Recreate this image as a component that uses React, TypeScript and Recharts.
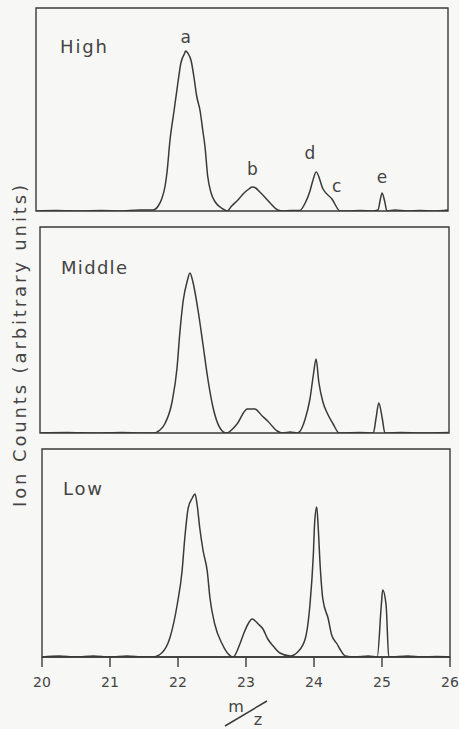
import React from 'react';
import { LineChart, Line, XAxis, YAxis, ReferenceArea, ReferenceDot } from 'recharts';

// m/z values and ion counts (arbitrary units)
const highSpectrum: [number, number][] = [
  [20.0, 0], [20.3, 0.5], [20.64, 0], [20.95, 0.5], [21.22, 0], [21.51, 1], [21.66, 1], [21.7, 1],
  [21.78, 5], [21.83, 12], [21.88, 25], [21.91, 40], [21.95, 70], [22.01, 100], [22.07, 130],
  [22.11, 148], [22.16, 157], [22.18, 160], [22.21, 158], [22.26, 150], [22.3, 134], [22.34, 115],
  [22.39, 100], [22.43, 80], [22.46, 65], [22.5, 35], [22.55, 18], [22.61, 9], [22.68, 4],
  [22.75, 1], [22.78, 0], [22.85, 5], [22.94, 11], [23.03, 18], [23.1, 22], [23.15, 24], [23.2, 23],
  [23.26, 19], [23.33, 14], [23.41, 8], [23.48, 3], [23.52, 1], [23.6, 0], [23.7, 0.5], [23.84, 0.5],
  [23.92, 8], [23.99, 20], [24.03, 30], [24.08, 39], [24.18, 22], [24.31, 12], [24.43, 0], [24.55, 0],
  [24.72, 0.5], [24.9, 0], [24.98, 1], [25.01, 10], [25.04, 18], [25.08, 9], [25.11, 0], [25.23, 1],
  [25.4, 0], [25.59, 0.5], [25.8, 0], [26.0, 1],
];

const middleSpectrum: [number, number][] = [
  [20.0, 0], [20.4, 0.5], [20.8, 0], [21.2, 0.5], [21.5, 0], [21.66, 0], [21.76, 3], [21.83, 9],
  [21.94, 32], [22.01, 65], [22.05, 99], [22.1, 132], [22.16, 152], [22.2, 160], [22.24, 152],
  [22.32, 122], [22.39, 89], [22.46, 55], [22.54, 25], [22.64, 5], [22.73, 0], [22.89, 9],
  [23.04, 24], [23.15, 24], [23.26, 17], [23.34, 12], [23.48, 2], [23.56, 0], [23.67, 1], [23.78, 0],
  [23.89, 14], [23.96, 34], [24.01, 58], [24.05, 74], [24.09, 51], [24.15, 31], [24.22, 19],
  [24.3, 9], [24.39, 0], [24.69, 0.5], [24.89, 0], [24.93, 15], [24.97, 30], [25.02, 15], [25.06, 0],
  [25.3, 0.5], [25.57, 0], [26.0, 0.5],
];

const lowSpectrum: [number, number][] = [
  [20.0, 0], [20.25, 1], [20.5, 0], [20.75, 1], [21.0, 0], [21.25, 1], [21.5, 0], [21.63, 0],
  [21.76, 4], [21.88, 19], [21.99, 53], [22.06, 86], [22.1, 119], [22.15, 149], [22.21, 159],
  [22.25, 163], [22.28, 153], [22.32, 129], [22.37, 106], [22.43, 86], [22.47, 59], [22.54, 33],
  [22.65, 13], [22.74, 3], [22.81, 0], [22.91, 13], [22.97, 24], [23.03, 33], [23.09, 38],
  [23.18, 33], [23.25, 28], [23.32, 18], [23.4, 11], [23.5, 4], [23.65, 1], [23.76, 5], [23.87, 18],
  [23.94, 52], [23.99, 102], [24.01, 135], [24.04, 150], [24.06, 132], [24.09, 92], [24.13, 58],
  [24.21, 38], [24.26, 22], [24.34, 13], [24.38, 8], [24.46, 1], [24.6, 0], [24.8, 1], [24.93, 0],
  [24.99, 52], [25.01, 67], [25.06, 52], [25.1, 0], [25.38, 1], [25.6, 0], [25.8, 0.5], [26.0, 0],
];

const panelNames = ['High', 'Middle', 'Low'];
const panelMax = [203, 206, 208];
const xTicks = [20, 21, 22, 23, 24, 25, 26];
const peakLabels: { label: string; mz: number; counts: number }[] = [
  { label: 'a', mz: 22.18, counts: 168 },
  { label: 'b', mz: 23.15, counts: 36 },
  { label: 'd', mz: 23.99, counts: 52 },
  { label: 'c', mz: 24.38, counts: 19 },
  { label: 'e', mz: 25.04, counts: 28 },
];
const xTitle = ['m', 'z'];
const yTitle = 'Ion Counts (arbitrary units)';

const toRows = (s: [number, number][]) => s.map(([mz, counts]) => ({ mz, counts }));

const INK = '#3a3a3a';
const TXT = '#444444';
const FONT = '"DejaVu Sans", sans-serif';

function Panel({ data, max, top, height, margin, showAxis, labels }: any) {
  return (
    <div style={{ position: 'absolute', left: 0, top, width: 459, height }}>
      <LineChart width={459} height={height} data={data} margin={margin}>
        <XAxis
          dataKey="mz"
          type="number"
          domain={[20, 26]}
          ticks={xTicks}
          hide={!showAxis}
          height={40}
          tickSize={10}
          tickMargin={10}
          stroke={INK}
          axisLine={{ stroke: INK, strokeWidth: 1.4 }}
          tickLine={{ stroke: INK, strokeWidth: 1.4 }}
          tick={{ fill: TXT, fontSize: 14, fontFamily: FONT }}
          allowDataOverflow
        />
        <YAxis type="number" domain={[0, max]} hide allowDataOverflow />
        <ReferenceArea
          x1={20}
          x2={26}
          y1={0}
          y2={max}
          fill="none"
          stroke={INK}
          strokeWidth={1.4}
          fillOpacity={0}
        />
        <Line
          type="monotone"
          dataKey="counts"
          stroke={INK}
          strokeWidth={1.5}
          dot={false}
          isAnimationActive={false}
        />
        {labels &&
          labels.map((p: any) => (
            <ReferenceDot
              key={p.label}
              x={p.mz}
              y={p.counts}
              r={1}
              shape={(props: any) => (
                <text
                  x={props.cx}
                  y={props.cy}
                  textAnchor="middle"
                  fontSize={17}
                  fontFamily={FONT}
                  style={{ fill: TXT, stroke: 'none' }}
                >
                  {p.label}
                </text>
              )}
            />
          ))}
      </LineChart>
    </div>
  );
}

export default function App() {
  return (
    <div
      style={{
        position: 'fixed',
        left: 0,
        top: 0,
        width: 459,
        height: 729,
        background: '#f7f7f5',
        overflow: 'hidden',
      }}
    >
      <Panel
        data={toRows(highSpectrum)}
        max={panelMax[0]}
        top={0}
        height={220}
        margin={{ top: 8, right: 11, bottom: 9, left: 36 }}
        showAxis={false}
        labels={peakLabels}
      />
      <Panel
        data={toRows(middleSpectrum)}
        max={panelMax[1]}
        top={220}
        height={222}
        margin={{ top: 7, right: 10, bottom: 9, left: 40 }}
        showAxis={false}
      />
      <Panel
        data={toRows(lowSpectrum)}
        max={panelMax[2]}
        top={442}
        height={287}
        margin={{ top: 7, right: 9, bottom: 32, left: 42 }}
        showAxis={true}
      />
      <svg
        width={459}
        height={729}
        style={{ position: 'absolute', left: 0, top: 0, pointerEvents: 'none' }}
      >
        <g fontFamily={FONT} fill={TXT}>
          <text x={60} y={53} fontSize={18} textLength={47} lengthAdjust="spacing">
            {panelNames[0]}
          </text>
          <text x={61} y={274} fontSize={18} textLength={66} lengthAdjust="spacing">
            {panelNames[1]}
          </text>
          <text x={63} y={495} fontSize={18} textLength={39} lengthAdjust="spacing">
            {panelNames[2]}
          </text>
          <text
            transform="translate(26,346) rotate(-90)"
            x={0}
            y={0}
            textAnchor="middle"
            fontSize={18}
            textLength={322}
            lengthAdjust="spacing"
          >
            {yTitle}
          </text>
          <text x={236} y={712} fontSize={16} textAnchor="middle">
            {xTitle[0]}
          </text>
          <text x={258} y={725} fontSize={16} textAnchor="middle">
            {xTitle[1]}
          </text>
        </g>
        <line x1={225} y1={726} x2={267} y2={701} stroke={INK} strokeWidth={1.5} />
      </svg>
    </div>
  );
}
